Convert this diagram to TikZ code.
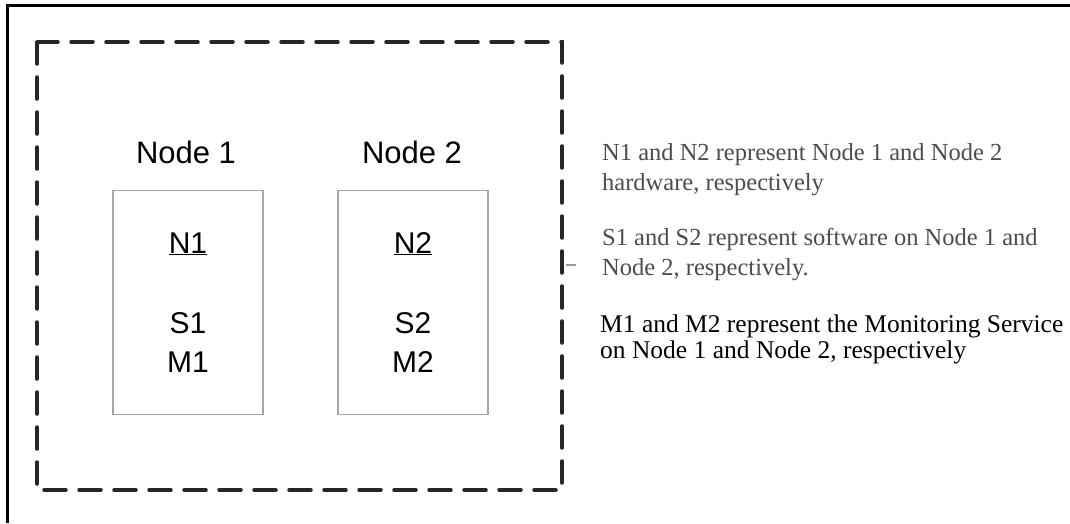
\documentclass[tikz,border=0pt]{standalone}
\usepackage{fontspec}
\setmainfont{Liberation Serif}
\newfontfamily\arialfont{Liberation Sans}
\begin{document}
\begin{tikzpicture}[x=1pt,y=-1pt,
  frameline/.style={line width=3pt,black},
  groupbox/.style={draw=black!85,line width=3.5pt,dash pattern=on 22pt off 13pt,line cap=round},
  hostbox/.style={draw=black!35,line width=1.2pt,minimum width=150pt,minimum height=224pt,inner sep=0pt},
  hosttitle/.style={font=\arialfont\fontsize{31}{36}\selectfont,anchor=base,inner sep=0pt},
  hostitem/.style={font=\arialfont\fontsize{30}{36}\selectfont,anchor=base,inner sep=0pt},
  note/.style={font=\fontsize{24.5}{30}\selectfont,text=black!70,align=left,anchor=base west,inner sep=0pt},
  notedark/.style={font=\fontsize{25.5}{26}\selectfont,text=black,align=left,anchor=base west,inner sep=0pt}]
\useasboundingbox (0,0) rectangle (1070,523);
\fill[white] (0,0) rectangle (1070,523);

% outer frame (top and left edges)
\draw[frameline] (7,523) -- (7,5.5) -- (1070,5.5);

% dashed group boundary
\draw[groupbox] (37,42) rectangle (562,490);
\coordinate (tickA) at (566,265);
\coordinate (tickB) at (576,265);
\draw[black!40,line width=1.5pt] (tickA) -- (tickB);

% hosts
\node[hostbox] (box1) at (188,302.5) {};
\node[hostbox] (box2) at (413,302.5) {};

\node[hosttitle] (t1) at (186,163) {Node 1};
\node[hosttitle] (t2) at (412,163) {Node 2};

\node[hostitem] (n1) at (box1.center |- 0,253) {\underline{N1}};
\node[hostitem] (s1) at (box1.center |- 0,333) {S1};
\node[hostitem] (m1) at (box1.center |- 0,372) {M1};

\node[hostitem] (n2) at (box2.center |- 0,253) {\underline{N2}};
\node[hostitem] (s2) at (box2.center |- 0,333) {S2};
\node[hostitem] (m2) at (box2.center |- 0,372) {M2};

% legend (base anchor sits on the last line of each paragraph)
\node[note] (legN) at (602,190) {N1 and N2 represent Node 1 and Node 2\\hardware, respectively};
\node[note] (legS) at (602,275) {S1 and S2 represent software on Node 1 and\\Node 2, respectively.};
\node[notedark] (legM) at (600,358) {M1 and M2 represent the Monitoring Service\\on Node 1 and Node 2, respectively};
\end{tikzpicture}
\end{document}
